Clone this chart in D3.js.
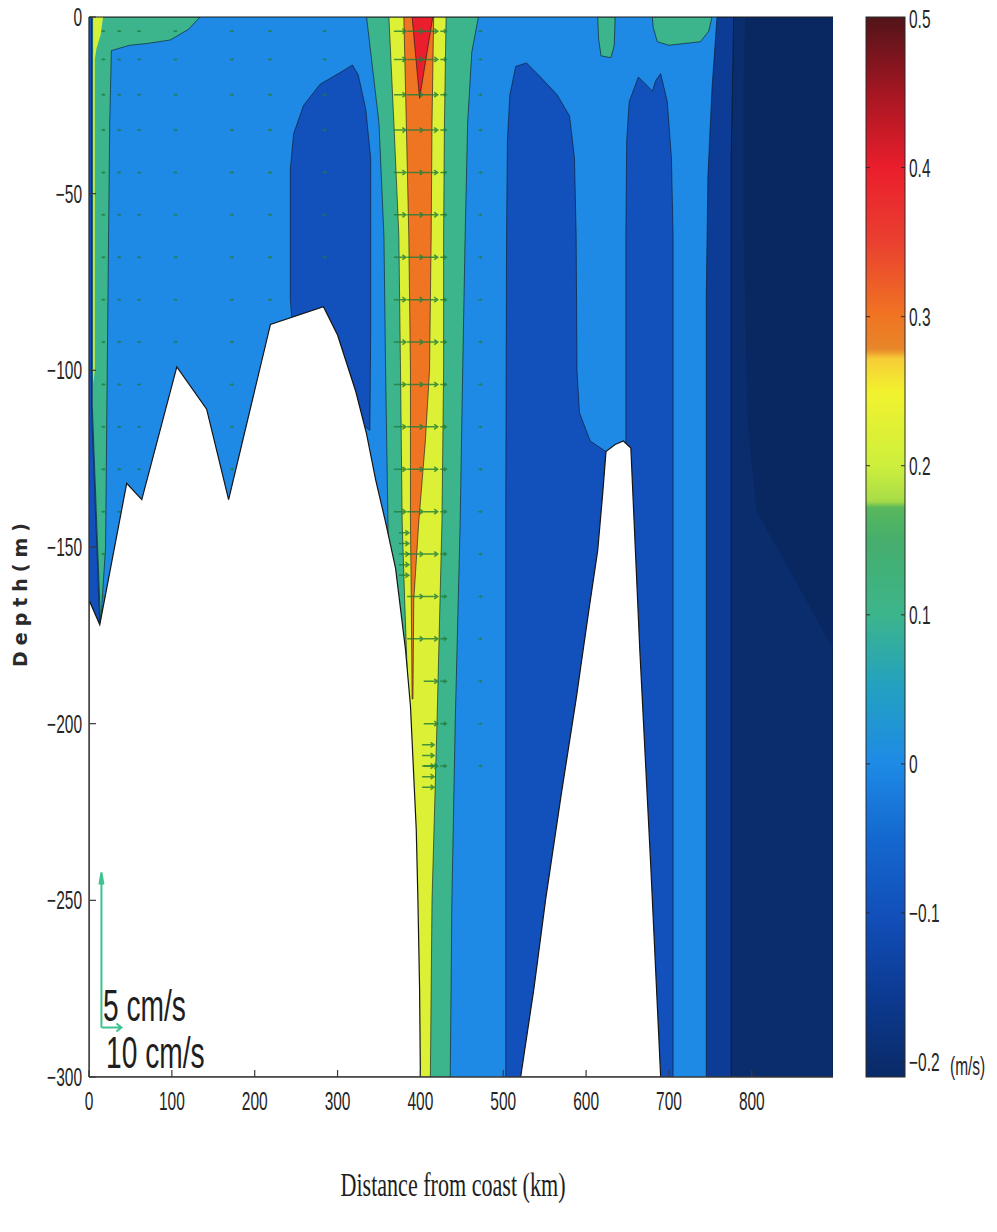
<!DOCTYPE html>
<html>
<head>
<meta charset="utf-8">
<script src="https://cdn.jsdelivr.net/npm/d3@7"></script>
<style>
  body { margin: 0; background: #ffffff; }
  svg { display: block; }
</style>
</head>
<body>
<svg id="chart" width="997" height="1232"></svg>
<script>
// ---------------------------------------------------------------
// Axis ticks
// ---------------------------------------------------------------
const xTicks = [0, 100, 200, 300, 400, 500, 600, 700, 800];
const yTicks = [0, -50, -100, -150, -200, -250, -300];
const colorTicks = [0.5, 0.4, 0.3, 0.2, 0.1, 0, -0.1, -0.2];

// Colour map (velocity in m/s -> colour)
const colorStops = [
  [-0.25, "#08204e"], [-0.2, "#0a2d6e"], [-0.15, "#0c3c96"], [-0.1, "#1250bb"],
  [-0.05, "#1468cf"], [0, "#1e8ae6"], [0.05, "#22a0c2"], [0.1, "#3cb58c"],
  [0.15, "#46ae6c"], [0.172, "#58b85c"], [0.176, "#a8dc48"], [0.2, "#cdef3c"],
  [0.25, "#f2f22e"], [0.272, "#f6cc36"], [0.278, "#e8862a"], [0.3, "#f07522"],
  [0.35, "#ea4030"], [0.4, "#ea1e2c"], [0.45, "#a51622"], [0.505, "#4a1418"]
];

// ---------------------------------------------------------------
// Filled velocity bands: [distance km, depth m], with band value (m/s)
// ---------------------------------------------------------------
const offshoreNavy = [[778,0],[898,0],[898,-300],[775,-300],[775,-100],[775,-40]];
const offshoreCore = [[792,0],[898,0],[898,-179],[868,-166],[835,-152],[806,-140],[795,-115],[790,-60],[790,-20]];
const offshoreEdge = [[758,0],[778,0],[775,-40],[775,-100],[775,-300],[745,-300],[745,-80],[747,-45],[752,-20]];

const surfacePatchA = [[614,0],[635,0],[634,-8],[630,-11.5],[618,-11],[615,-6]];
const surfacePatchB = [[680,0],[752,0],[748,-4],[738,-7],[700,-8],[686,-7],[681,-3]];

const shelfCounterflow = [[318,-13.6],[325,-16.4],[334,-26],[340,-40],[340,-66],[340,-89],[339,-117],
  [300,-110],[283,-86],[259,-86],[245,-86],[243,-80],[243,-43],[247,-33],[259,-25],[279,-19],[304,-15.6]];
const southwardCellA = [[505,-35],[508,-22],[515,-14],[528,-13],[545,-17],[565,-22],[580,-28],[586,-40],
  [588,-62],[589,-100],[592,-112],[605,-120],[624,-123],[600,-200],[560,-300],[503,-300],[503,-143],[504,-62]];
const southwardCellB = [[649,-35],[652,-24],[663,-17],[672,-19],[680,-21],[684,-18],[690,-16],[698,-24],
  [703,-40],[705,-62],[705,-100],[705,-200],[705,-300],[648,-300],[648,-62]];

// Slope current: nested bands from the outer edge to the core
const jetOuter = [[335,0],[350,-30],[356,-62],[358,-100],[360,-130],[362,-160],[370,-300],
  [436,-300],[438,-250],[442,-200],[448,-143],[451,-100],[454,-62],[457,-30],[462,-10],[470,0]];
const jetMiddle = [[362,0],[368,-30],[374,-62],[376,-100],[378,-143],[381,-165],[384,-185],[386,-200],[391,-230],[396,-300],
  [412,-300],[414,-250],[420,-200],[426,-143],[428,-100],[428,-62],[429,-30],[431,0]];
const jetInner = [[380,0],[383,-30],[386,-62],[388,-100],[388,-143],[389,-165],[390,-193],
  [391,-193],[392,-165],[398,-143],[406,-120],[411,-100],[413,-62],[414,-30],[416,0]];
const jetCore = [[390,0],[415,0],[399,-23]];

// Coastal strip
const coastalStrip = [[4,0],[134,0],[120,-3.5],[98,-6.5],[70,-7.5],[49,-8],[27,-9.5],[25,-30],[22,-100],
  [20,-150],[14,-172],[4,-110]];
const coastalEdge = [[0,0],[3,0],[3,-110],[13,-172],[0,-165]];
const coastalJet = [[5,0],[17,0],[14,-5],[9,-9],[7,-12],[7,-100],[5,-104]];

const bands = [
  { pts: offshoreNavy, v: -0.2, line: true },
  { pts: offshoreCore, v: -0.222, line: false },
  { pts: offshoreEdge, v: -0.15, line: true },
  { pts: surfacePatchA, v: 0.1, line: true },
  { pts: surfacePatchB, v: 0.1, line: true },
  { pts: shelfCounterflow, v: -0.1, line: true },
  { pts: southwardCellA, v: -0.1, line: true },
  { pts: southwardCellB, v: -0.1, line: true },
  { pts: jetOuter, v: 0.1, line: true },
  { pts: jetMiddle, v: 0.22, line: true },
  { pts: jetInner, v: 0.3, line: true },
  { pts: jetCore, v: 0.4, line: true },
  { pts: coastalStrip, v: 0.1, line: true },
  { pts: coastalEdge, v: -0.1, line: true },
  { pts: coastalJet, v: 0.21, line: false }
];

// Bathymetry (white, below the sea floor)
const shelfBottom = [[0,-165],[13,-172],[45.5,-132],[63.7,-136.6],[106,-99],[142,-111],[168.5,-136.6],
  [219,-87],[283,-82],[300,-90],[322,-106],[335,-118],[346,-131],[358,-143],[370,-156],[382,-179],
  [388,-195],[391,-210],[395,-230],[397,-250],[399,-275],[400,-300]];
const seamount = [[521,-300],[537,-275],[551,-250],[570,-220],[588,-193],[602,-170],[614,-151],[620,-135],
  [624,-123],[635,-121],[645,-120],[654,-122],[665,-180],[678,-240],[690,-300]];

// Velocity vectors: station positions (km), horizontal speed (cm/s), depth levels (m)
const quiverStations = [15, 34, 58, 102, 170, 216, 282, 368, 384, 404, 424, 470];
const quiverSpeed =    [0.6, 0.8, 0.8, 0.5, 0.4, 0.4, 0.4, 6, 8, 7, 3, 0.5];
const quiverDepths = [-4, -12, -22, -32, -44, -56, -68, -80, -92, -104, -116, -128, -140, -152, -164, -176, -188, -200, -212];
// Closely spaced near-bottom levels at two slope stations
const bottomStations = [374, 402];
const bottomSpeed = [5, 6];
const bottomDepths = [[-146, -149, -152, -155, -158], [-206, -209, -212, -215, -218]];

// Reference arrows
const refArrowOrigin = [15, -286];
const refU = 10;   // cm/s, horizontal
const refW = 5;    // cm/s, vertical

// ---------------------------------------------------------------
const svg = d3.select("#chart");
const x = d3.scaleLinear().domain([0, 898]).range([89, 833]);
const y = d3.scaleLinear().domain([0, -300]).range([17, 1077]);
const cy = d3.scaleLinear().domain([-0.21, 0.501]).range([1077, 17]);
const color = d3.scaleLinear()
  .domain(colorStops.map(d => d[0]))
  .range(colorStops.map(d => d[1]))
  .clamp(true);
const line = d3.line().x(d => x(d[0])).y(d => y(d[1]));

const defs = svg.append("defs");
defs.append("clipPath").attr("id", "plot-clip")
  .append("rect")
  .attr("x", x(0)).attr("y", y(0))
  .attr("width", x(898) - x(0)).attr("height", y(-300) - y(0));

const plot = svg.append("g").attr("clip-path", "url(#plot-clip)");

// Background water band (near-zero flow)
plot.append("rect")
  .attr("x", x(0)).attr("y", y(0))
  .attr("width", x(898) - x(0)).attr("height", y(-300) - y(0))
  .attr("fill", color(0));

plot.selectAll("path.band")
  .data(bands)
  .join("path")
  .attr("class", "band")
  .attr("d", d => line(d.pts) + "Z")
  .attr("fill", d => color(d.v))
  .attr("stroke", d => d.line ? "#0d1420" : "none")
  .attr("stroke-opacity", 0.6)
  .attr("stroke-width", 1);

// Velocity vectors (drawn before the sea floor mask)
function floorDepth(km) {
  for (let i = 0; i < shelfBottom.length - 1; i++) {
    const a = shelfBottom[i], b = shelfBottom[i + 1];
    if (km >= a[0] && km <= b[0]) {
      const t = (km - a[0]) / (b[0] - a[0] || 1);
      return a[1] + t * (b[1] - a[1]);
    }
  }
  return -300;
}
const pxPerCm = 2;
const vectors = [];
quiverStations.forEach((s, i) => {
  const bottom = floorDepth(s);
  quiverDepths.forEach(d => {
    if (d > bottom + 3) vectors.push({ km: s, d: d, u: quiverSpeed[i] });
  });
});
bottomStations.forEach((s, i) => {
  bottomDepths[i].forEach(d => vectors.push({ km: s, d: d, u: bottomSpeed[i] }));
});
const vg = plot.append("g").attr("stroke", "#1f7d3c").attr("fill", "none")
  .attr("stroke-width", 1.5).attr("stroke-opacity", 0.8);
vg.selectAll("path")
  .data(vectors)
  .join("path")
  .attr("d", v => {
    const x0 = x(v.km), y0 = y(v.d);
    const L = Math.max(3, v.u * pxPerCm);
    const x1 = x0 + L;
    const h = Math.min(3.5, L * 0.4);
    return `M${x0},${y0}L${x1},${y0}M${x1 - h},${y0 - h * 0.7}L${x1},${y0}L${x1 - h},${y0 + h * 0.7}`;
  });

// Sea floor
[shelfBottom.concat([[0, -300]]), seamount].forEach(poly => {
  plot.append("path")
    .attr("d", line(poly) + "Z")
    .attr("fill", "#ffffff")
    .attr("stroke", "#151515")
    .attr("stroke-width", 1.2);
});

// Top edge of the section
svg.append("line")
  .attr("x1", x(0)).attr("x2", x(898)).attr("y1", y(0)).attr("y2", y(0))
  .attr("stroke", "#1c1c1c").attr("stroke-width", 1.2);

// Reference arrows
const ra = svg.append("g").attr("stroke", "#3ec38f").attr("fill", "none").attr("stroke-width", 2);
const ox = x(refArrowOrigin[0]), oy = y(refArrowOrigin[1]);
const uLen = refU * pxPerCm, wLen = refW * 31;
ra.append("path").attr("d", `M${ox},${oy}L${ox + uLen},${oy}M${ox + uLen - 5},${oy - 4}L${ox + uLen},${oy}L${ox + uLen - 5},${oy + 4}`);
ra.append("path").attr("d", `M${ox},${oy}L${ox},${oy - wLen}M${ox - 2},${oy - wLen + 12}L${ox},${oy - wLen}L${ox + 2},${oy - wLen + 12}`);

// ---------------------------------------------------------------
// Text helper (condensed lettering)
function label(g, str, px, py, o) {
  return g.append("text")
    .attr("transform", `translate(${px},${py})${o.rotate ? ` rotate(${o.rotate})` : ""} scale(${o.sx || 1},1)`)
    .attr("text-anchor", o.anchor || "start")
    .attr("dy", o.dy || "0")
    .attr("font-family", o.family || "'Liberation Sans', Arial, sans-serif")
    .attr("font-size", o.size)
    .attr("font-weight", o.weight || "normal")
    .attr("letter-spacing", o.ls || 0)
    .attr("fill", o.fill || "#262626")
    .text(str);
}
const fmt = v => (v < 0 ? "\u2212" : "") + Math.abs(v);

const axes = svg.append("g");
axes.append("line").attr("x1", x(0)).attr("x2", x(0)).attr("y1", y(0)).attr("y2", y(-300))
  .attr("stroke", "#3a3a3a").attr("stroke-width", 1.4);
axes.append("line").attr("x1", x(0)).attr("x2", x(898)).attr("y1", y(-300)).attr("y2", y(-300))
  .attr("stroke", "#3a3a3a").attr("stroke-width", 1.4);

yTicks.forEach(t => {
  axes.append("line").attr("x1", x(0)).attr("x2", x(0) + 7).attr("y1", y(t)).attr("y2", y(t))
    .attr("stroke", "#3a3a3a").attr("stroke-width", 1.2);
  label(axes, fmt(t), 82, y(t), { anchor: "end", dy: "0.36em", size: 25, sx: 0.62 });
});
xTicks.forEach(t => {
  axes.append("line").attr("x1", x(t)).attr("x2", x(t)).attr("y1", y(-300)).attr("y2", y(-300) - 7)
    .attr("stroke", "#3a3a3a").attr("stroke-width", 1.2);
  label(axes, String(t), x(t), 1110, { anchor: "middle", size: 25, sx: 0.62 });
});

label(axes, "Distance from coast (km)", 453, 1196,
  { anchor: "middle", size: 34, sx: 0.65, family: "'Liberation Serif', 'Times New Roman', serif", fill: "#1e1e1e" });
label(axes, "Depth(m)", 27, 592,
  { anchor: "middle", size: 19, weight: "bold", rotate: -90, ls: 6,
    family: "'DejaVu Sans', 'Liberation Sans', sans-serif", fill: "#2a2a2a" });

label(axes, "5 cm/s", 103, 1021, { size: 44, sx: 0.64, fill: "#1f1f1f" });
label(axes, "10 cm/s", 106, 1068, { size: 44, sx: 0.64, fill: "#1f1f1f" });

// ---------------------------------------------------------------
// Colour bar
const cbX = 866, cbW = 39;
const [cLo, cHi] = cy.domain();
const grad = defs.append("linearGradient").attr("id", "cbar")
  .attr("gradientUnits", "userSpaceOnUse")
  .attr("x1", 0).attr("x2", 0).attr("y1", cy(cLo)).attr("y2", cy(cHi));
d3.range(0, 401).forEach(i => {
  const v = cLo + (cHi - cLo) * i / 400;
  grad.append("stop").attr("offset", i / 400).attr("stop-color", color(v));
});
svg.append("rect")
  .attr("x", cbX).attr("y", cy(cHi))
  .attr("width", cbW).attr("height", cy(cLo) - cy(cHi))
  .attr("fill", "url(#cbar)")
  .attr("stroke", "#2b2b2b").attr("stroke-width", 1);
colorTicks.forEach(t => {
  svg.append("line").attr("x1", cbX).attr("x2", cbX + 4).attr("y1", cy(t)).attr("y2", cy(t))
    .attr("stroke", "#2b2b2b").attr("stroke-width", 1);
  svg.append("line").attr("x1", cbX + cbW - 4).attr("x2", cbX + cbW).attr("y1", cy(t)).attr("y2", cy(t))
    .attr("stroke", "#2b2b2b").attr("stroke-width", 1);
  label(svg, fmt(t), 909, cy(t), { dy: "0.36em", size: 25, sx: 0.62 });
});
label(svg, "(m/s)", 950, cy(-0.2) + 4, { dy: "0.36em", size: 25, sx: 0.62 });
</script>
</body>
</html>
